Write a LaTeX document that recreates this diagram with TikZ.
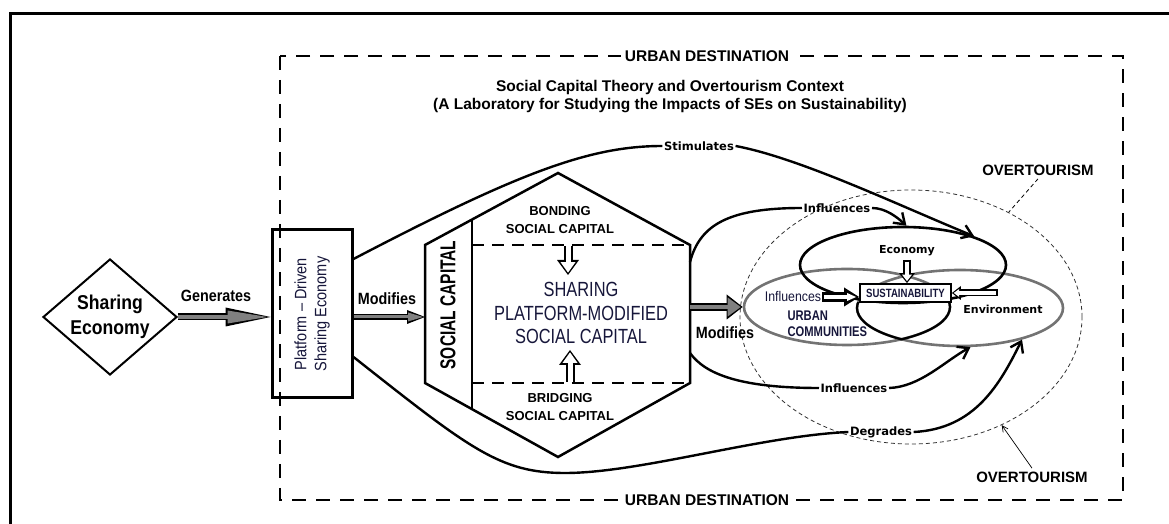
\documentclass[tikz,border=0pt]{standalone}
\usepackage{fontspec}
\setmainfont{Liberation Sans}
\newfontfamily\dvs{DejaVu Sans}
\newfontfamily\cond{Liberation Sans}[FakeStretch=0.72]
\newfontfamily\narrow{Liberation Sans}[FakeStretch=0.8]
\newfontfamily\semi{Liberation Sans}[FakeStretch=0.88]
\usetikzlibrary{arrows.meta,shapes.geometric,calc}
\definecolor{ink}{RGB}{22,22,58}
\definecolor{arrgray}{RGB}{128,128,128}

\begin{document}
\begin{tikzpicture}[x=1pt,y=1pt,
  link/.style={line width=2.4pt},
  arrowend/.style={-{Straight Barb[length=10pt,width=14pt]}},
  head/.style 2 args={-{Triangle[length=#1,width=#2,line width=0pt]}},
  lbl/.style={font=\semi\bfseries\fontsize{16.3}{18}\selectfont, inner sep=1pt},
  clbl/.style={font=\dvs\bfseries\fontsize{11.5}{13}\selectfont, inner sep=1.5pt},
  caps/.style={font=\bfseries\fontsize{13}{18}\selectfont, align=center},
  tour/.style={font=\bfseries\fontsize{15}{17}\selectfont},
  dest/.style={font=\bfseries\fontsize{15.5}{17}\selectfont, fill=white, inner sep=4pt},
  venn/.style={ellipse, draw=black!55, line width=2.6pt, minimum width=206pt, minimum height=76pt, inner sep=0pt},
  vlbl/.style={font=\dvs\bfseries\fontsize{11}{13}\selectfont},
]
\useasboundingbox (0,0) rectangle (1169,524);
\draw[line width=3pt] (10,0) -- (10,510) -- (1169,510);
\draw[line width=1.8pt, dash pattern=on 14pt off 10pt] (280,468) rectangle (1123,24);
\node[dest] (udtop) at (707,468) {URBAN DESTINATION};
\node[dest] (udbot) at (707,24) {URBAN DESTINATION};
\node[font=\bfseries\fontsize{15.5}{18}\selectfont, align=center] (theory) at (670,427)
  {Social Capital Theory and Overtourism Context\\(A Laboratory for Studying the Impacts of SEs on Sustainability)};

\node[diamond, draw, line width=2pt, aspect=1.15, minimum width=134pt, minimum height=116pt, inner sep=0pt,
  align=center, font=\semi\bfseries\fontsize{20}{25}\selectfont] (sharing) at (110,207) {Sharing\\Economy};
\node[draw, line width=3pt, minimum width=80pt, minimum height=168pt] (platform) at (312,210) {};
\node[rotate=90, align=center, text=ink, font=\semi\fontsize{16.5}{20}\selectfont] (pdse) at (platform.center)
  {Platform – Driven\\Sharing Economy};

\coordinate (hexN) at (558,351);
\coordinate (hexNE) at (690,279);
\coordinate (hexSE) at (690,141);
\coordinate (hexS) at (558,67);
\coordinate (hexSW) at (425,141);
\coordinate (hexNW) at (425,279);
\coordinate (bandN) at ($(hexNW)!0.353!(hexN)$);
\coordinate (bandS) at ($(hexSW)!0.353!(hexS)$);
\coordinate (hexW) at (425,207);
\coordinate (hexE) at (690,217);
\coordinate (hexInT) at (690,262);
\coordinate (hexInB) at (690,171);
\draw[line width=2.5pt, line join=miter] (hexN) -- (hexNE) -- (hexSE) -- (hexS) -- (hexSW) -- (hexNW) -- cycle;
\draw[line width=2.5pt] (bandN) -- (bandS);
\draw[line width=1.8pt, dash pattern=on 12pt off 8pt] (bandN |- hexNE) -- (hexNE);
\draw[line width=1.8pt, dash pattern=on 12pt off 8pt] (bandS |- hexSE) -- (hexSE);
\node[rotate=90, font=\cond\bfseries\fontsize{21.5}{24}\selectfont] (soccap) at (448,219) {SOCIAL CAPITAL};
\node[caps] (bonding) at (560,304) {BONDING\\SOCIAL CAPITAL};
\node[caps] (bridging) at (560,117) {BRIDGING\\SOCIAL CAPITAL};
\node[font=\narrow\fontsize{20.5}{23.5}\selectfont, align=center, text=ink] (spmsc) at (581,211)
  {SHARING\\PLATFORM-MODIFIED\\SOCIAL CAPITAL};
\coordinate (bondtail) at (568,278);
\coordinate (bondtip) at (568,249);
\coordinate (bridtail) at (570,142);
\coordinate (bridtip) at (570,174);
\draw[line width=9pt, head={15pt}{22pt}] (bondtail) -- (bondtip);
\draw[line width=5pt, white, head={10.5pt}{15pt}, shorten >=2.4pt] (bondtail) -- (bondtip);
\draw[line width=9pt, head={15pt}{22pt}] (bridtail) -- (bridtip);
\draw[line width=5pt, white, head={10.5pt}{15pt}, shorten >=2.4pt] (bridtail) -- (bridtip);

\node[ellipse, draw=black!80, dash pattern=on 4pt off 3pt, line width=0.8pt, minimum width=342pt,
  minimum height=254pt, inner sep=0pt] (over) at (911,207) {};
\node[venn] (urban) at (847,217) {};
\node[venn] (env) at (960,216) {};
\begin{scope}
  \clip (820,150) rectangle (990,221);
  \clip (847,217) ellipse [x radius=104pt, y radius=39pt];
  \draw[line width=2.2pt] (960,216) ellipse [x radius=103pt, y radius=38pt];
\end{scope}
\begin{scope}
  \clip (820,150) rectangle (990,221);
  \clip (960,216) ellipse [x radius=104pt, y radius=39pt];
  \draw[line width=2.2pt] (847,217) ellipse [x radius=103pt, y radius=38pt];
\end{scope}
\node[venn, draw=black] (econ) at (903,259) {};
\node[draw, line width=1.8pt, fill=white, minimum width=91pt, minimum height=18pt, inner sep=0pt,
  text=ink, font=\narrow\bfseries\fontsize{12}{13}\selectfont] (sust) at (905.5,231) {SUSTAINABILITY};
\node[vlbl] (econtxt) at (907,273) {Economy};
\node[vlbl] (envtxt) at (1003,215) {Environment};
\node[font=\semi\fontsize{14}{15}\selectfont, text=ink, fill=white, inner sep=1pt] (inflin) at (793,227) {Influences};
\node[font=\narrow\bfseries\fontsize{14}{16}\selectfont, text=ink, align=left, anchor=west] (ucom) at (784,200)
  {URBAN\\COMMUNITIES};
\coordinate (envtail) at (998,231);
\draw[line width=8pt, head={10pt}{16pt}] (econtxt.south) -- (econtxt.south |- sust.north);
\draw[line width=4pt, white, head={6.5pt}{10pt}, shorten >=2pt, shorten <=1.8pt] (econtxt.south) -- (econtxt.south |- sust.north);
\draw[line width=7pt, head={9pt}{14pt}] (envtail) -- (sust.east);
\draw[line width=3.4pt, white, head={5.5pt}{8pt}, shorten >=1.8pt, shorten <=1.8pt] (envtail) -- (sust.east);
\draw[line width=10pt, head={15pt}{19pt}] (inflin.east) -- (inflin.east -| sust.west);
\draw[line width=3.5pt, white, head={9pt}{8pt}, shorten >=3pt, shorten <=2pt] (inflin.east) -- (inflin.east -| sust.west);

\draw[line width=7pt, head={45pt}{19pt}] (sharing.east) -- (sharing.east -| platform.west);
\draw[line width=3.6pt, arrgray, head={40pt}{13pt}, shorten >=3pt] (sharing.east) -- (sharing.east -| platform.west);
\node[lbl] (gen) at (216,228) {Generates};
\draw[line width=6pt, head={18pt}{14pt}] (platform.east |- sharing.east) -- (hexW);
\draw[line width=3pt, arrgray, head={15pt}{9pt}, shorten >=2pt] (platform.east |- sharing.east) -- (hexW);
\node[lbl] (mod1) at (387,225) {Modifies};
\draw[line width=8pt, head={16pt}{25pt}] (hexE) -- (urban.west);
\draw[line width=4.5pt, arrgray, head={13pt}{19pt}, shorten >=2pt] (hexE) -- (urban.west);
\node[lbl] (mod2) at (725,191) {Modifies};

\node[clbl] (stim) at (699,378) {Stimulates};
\node[clbl] (infltop) at (837,316) {Influences};
\node[clbl] (inflbot) at (854,136) {Influences};
\node[clbl] (degr) at (881,92) {Degrades};
\coordinate (pdUp) at ($(platform.east)+(0,55)$);
\coordinate (pdDown) at ($(platform.east)+(0,-43)$);
\draw[link] (pdUp) .. controls (520,352) and (590,378) .. (stim.west);
\draw[link, arrowend] (stim.east) .. controls (800,366) and (900,318) .. (econ.22);
\draw[link] (hexInT) .. controls (700,300) and (730,316) .. (infltop.west);
\draw[link, arrowend] (infltop.east) .. controls (886,316) and (898,306) .. (econ.85);
\draw[link] (hexInB) .. controls (705,150) and (740,136) .. (inflbot.west);
\draw[link, arrowend] (inflbot.east) .. controls (920,137) and (945,163) .. (env.-75);
\draw[link] (pdDown) .. controls (470,75) and (500,51) .. (565,51) .. controls (640,51) and (760,88) .. (degr.west);
\draw[link, arrowend] (degr.east) .. controls (975,95) and (1000,140) .. (env.-27);

\node[tour] (ovtop) at (1038,354) {OVERTOURISM};
\node[tour] (ovbot) at (1032,47) {OVERTOURISM};
\draw[line width=0.8pt, dash pattern=on 4pt off 3pt] (ovtop.south) -- (over.47);
\draw[line width=0.7pt, -{Straight Barb[length=6pt,width=6pt]}] (ovbot.north) -- (over.-50);
\end{tikzpicture}
\end{document}
